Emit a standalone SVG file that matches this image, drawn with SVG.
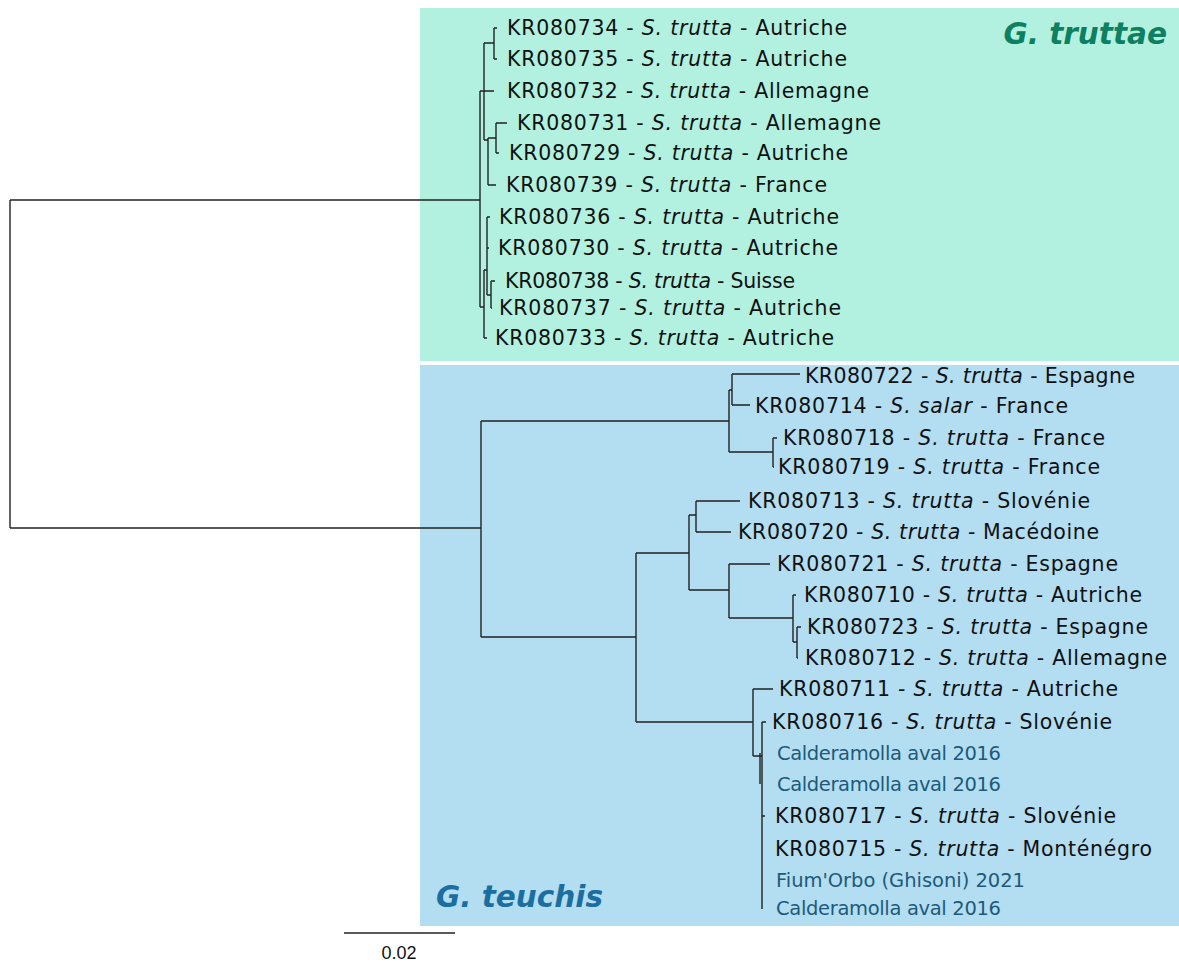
<svg xmlns="http://www.w3.org/2000/svg" width="1179" height="963" viewBox="0 0 1179 963">
<style>
.br{fill:none;stroke:#222;stroke-width:1.4}
.lb{font-family:"DejaVu Sans",Verdana,sans-serif;font-size:20.5px;fill:#111}
.lb tspan.i{font-style:italic}
.sp{fill:#1d5a7a;font-size:19.5px}
.cl{font-family:"DejaVu Sans",Verdana,sans-serif;font-size:29.5px;font-weight:bold;font-style:italic}
.sc{font-family:"Liberation Sans",Arial,sans-serif;font-size:18px;fill:#111}
</style>
<rect id="bg" width="1179" height="963" fill="#fff"/>
<g id="clade-truttae-box"><rect x="420" y="8" width="759" height="353" fill="#b2f1df"/><text class="cl" x="1167" y="44" text-anchor="end" fill="#0d8061">G. truttae</text></g>
<g id="clade-teuchis-box"><rect x="420" y="365" width="759" height="561" fill="#b3ddf1"/><text class="cl" x="436" y="907" fill="#1a6ea0">G. teuchis</text></g>
<g id="connectors">
<path class="br" d="M10,200 V528 M10,200 H480 M10,528 H481"/>
<path class="br" d="M480,91 V307 M480,91 H494 M484,43 V140 M484,43 H494 M494,28 V59 M494,28 H497 M494,59 H497 M484,140 H488 M488,138 V185 M488,138 H496 M496,123 V153 M496,123 H507 M496,153 H499 M488,185 H496 M480,307 H484 M484,270 V338 M484,338 H487 M484,270 H487 M487,217 V295 M487,217 H490 M487,248 H489 M487,295 H491 M491,281 V308 M491,281 H495 M491,308 H492"/>
<path class="br" d="M481,421 V637 M481,421 H729 M729,390 V452 M729,390 H732 M732,374 V405 M732,374 H800 M732,405 H750 M729,452 H773 M773,438 V467 M773,438 H777 M773,467 H774"/>
<path class="br" d="M481,637 H636 M636,553 V722 M636,553 H689 M689,515 V590 M689,515 H696 M696,501 V532 M696,501 H740 M696,532 H731 M689,590 H729 M729,564 V618 M729,564 H770 M729,618 H793 M793,595 V642 M793,595 H796 M793,642 H797 M797,627 V658 M797,627 H801 M797,658 H798"/>
<path class="br" d="M636,722 H753 M753,689 V756 M753,689 H773 M753,756 H762 M762,722 V909 M762,722 H766 M760,753 V784 M762,816 H765"/>
</g>
<g id="scale"><path class="br" d="M344,933 H455"/><text class="sc" x="399" y="959" text-anchor="middle">0.02</text></g>
<g id="n734"><text class="lb" x="507" y="35" textLength="340" lengthAdjust="spacing">KR080734 - <tspan class="i">S. trutta</tspan> - Autriche</text></g>
<g id="n735"><text class="lb" x="507" y="66" textLength="340" lengthAdjust="spacing">KR080735 - <tspan class="i">S. trutta</tspan> - Autriche</text></g>
<g id="n732"><text class="lb" x="507" y="98" textLength="362" lengthAdjust="spacing">KR080732 - <tspan class="i">S. trutta</tspan> - Allemagne</text></g>
<g id="n731"><text class="lb" x="517" y="130" textLength="364" lengthAdjust="spacing">KR080731 - <tspan class="i">S. trutta</tspan> - Allemagne</text></g>
<g id="n729"><text class="lb" x="509" y="160" textLength="339" lengthAdjust="spacing">KR080729 - <tspan class="i">S. trutta</tspan> - Autriche</text></g>
<g id="n739"><text class="lb" x="506" y="192" textLength="321" lengthAdjust="spacing">KR080739 - <tspan class="i">S. trutta</tspan> - France</text></g>
<g id="n736"><text class="lb" x="499" y="224" textLength="340" lengthAdjust="spacing">KR080736 - <tspan class="i">S. trutta</tspan> - Autriche</text></g>
<g id="n730"><text class="lb" x="498" y="255" textLength="340" lengthAdjust="spacing">KR080730 - <tspan class="i">S. trutta</tspan> - Autriche</text></g>
<g id="n738"><text class="lb" x="505" y="288" textLength="290" lengthAdjust="spacing">KR080738 - <tspan class="i">S. trutta</tspan> - Suisse</text></g>
<g id="n737"><text class="lb" x="499" y="315" textLength="342" lengthAdjust="spacing">KR080737 - <tspan class="i">S. trutta</tspan> - Autriche</text></g>
<g id="n733"><text class="lb" x="495" y="345" textLength="339" lengthAdjust="spacing">KR080733 - <tspan class="i">S. trutta</tspan> - Autriche</text></g>
<g id="n722"><text class="lb" x="805" y="383" textLength="330" lengthAdjust="spacing">KR080722 - <tspan class="i">S. trutta</tspan> - Espagne</text></g>
<g id="n714"><text class="lb" x="755" y="413" textLength="313" lengthAdjust="spacing">KR080714 - <tspan class="i">S. salar</tspan> - France</text></g>
<g id="n718"><text class="lb" x="783" y="445" textLength="322" lengthAdjust="spacing">KR080718 - <tspan class="i">S. trutta</tspan> - France</text></g>
<g id="n719"><text class="lb" x="778" y="474" textLength="322" lengthAdjust="spacing">KR080719 - <tspan class="i">S. trutta</tspan> - France</text></g>
<g id="n713"><text class="lb" x="748" y="508" textLength="342" lengthAdjust="spacing">KR080713 - <tspan class="i">S. trutta</tspan> - Slovénie</text></g>
<g id="n720"><text class="lb" x="738" y="539" textLength="361" lengthAdjust="spacing">KR080720 - <tspan class="i">S. trutta</tspan> - Macédoine</text></g>
<g id="n721"><text class="lb" x="777" y="571" textLength="341" lengthAdjust="spacing">KR080721 - <tspan class="i">S. trutta</tspan> - Espagne</text></g>
<g id="n710"><text class="lb" x="804" y="602" textLength="338" lengthAdjust="spacing">KR080710 - <tspan class="i">S. trutta</tspan> - Autriche</text></g>
<g id="n723"><text class="lb" x="807" y="634" textLength="341" lengthAdjust="spacing">KR080723 - <tspan class="i">S. trutta</tspan> - Espagne</text></g>
<g id="n712"><text class="lb" x="805" y="665" textLength="362" lengthAdjust="spacing">KR080712 - <tspan class="i">S. trutta</tspan> - Allemagne</text></g>
<g id="n711"><text class="lb" x="779" y="696" textLength="339" lengthAdjust="spacing">KR080711 - <tspan class="i">S. trutta</tspan> - Autriche</text></g>
<g id="n716"><text class="lb" x="772" y="729" textLength="340" lengthAdjust="spacing">KR080716 - <tspan class="i">S. trutta</tspan> - Slovénie</text></g>
<g id="s1"><text class="lb sp" x="777" y="760" textLength="224" lengthAdjust="spacing">Calderamolla aval 2016</text></g>
<g id="s2"><text class="lb sp" x="777" y="791" textLength="224" lengthAdjust="spacing">Calderamolla aval 2016</text></g>
<g id="n717"><text class="lb" x="775" y="823" textLength="341" lengthAdjust="spacing">KR080717 - <tspan class="i">S. trutta</tspan> - Slovénie</text></g>
<g id="n715"><text class="lb" x="775" y="856" textLength="377" lengthAdjust="spacing">KR080715 - <tspan class="i">S. trutta</tspan> - Monténégro</text></g>
<g id="s3"><text class="lb sp" x="776" y="887" textLength="249" lengthAdjust="spacing">Fium'Orbo (Ghisoni) 2021</text></g>
<g id="s4"><text class="lb sp" x="776" y="915" textLength="225" lengthAdjust="spacing">Calderamolla aval 2016</text></g>
</svg>
